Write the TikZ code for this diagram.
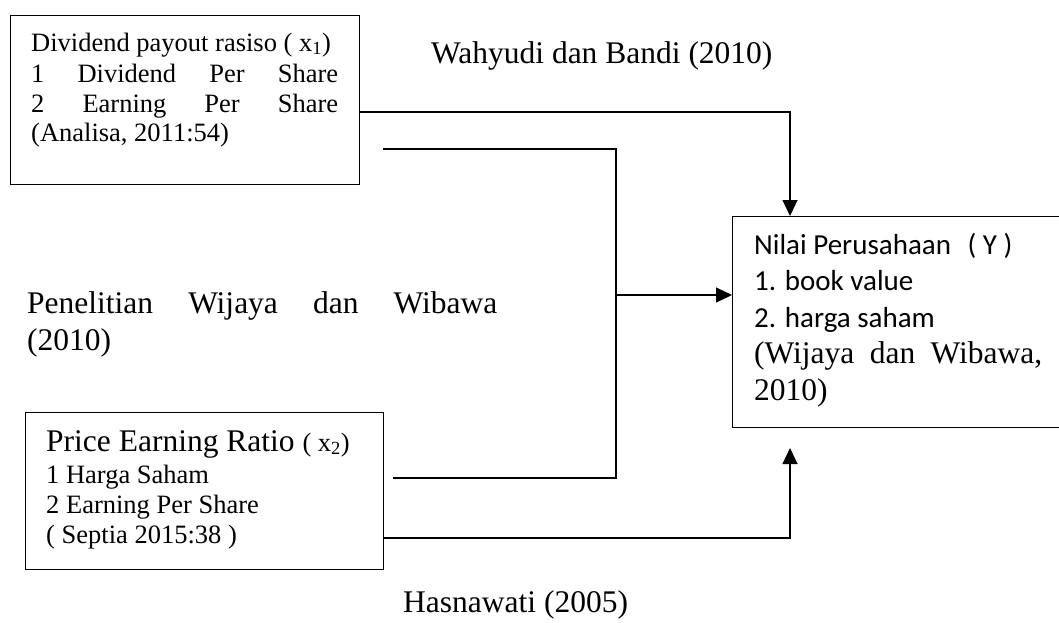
\documentclass[tikz,border=0pt]{standalone}
\usepackage{fontspec}
\setmainfont{Liberation Serif}
\newfontfamily\calib{Carlito}
\usetikzlibrary{arrows.meta}
\tikzset{
  box/.style={draw=black, line width=1.1pt, inner sep=0pt, anchor=north west},
  conn/.style={draw=black, line width=1.1pt},
  arr/.style={conn, -{Triangle[length=16pt,width=15pt]}},
  txt/.style={inner sep=0pt, anchor=base west},
}
\newcommand{\fsA}{\fontsize{26.5pt}{30pt}\selectfont}
\newcommand{\fsB}{\fontsize{31.5pt}{36pt}\selectfont}
\newcommand{\fsC}{\fontsize{29pt}{36pt}\selectfont}
\begin{document}
\begin{tikzpicture}[x=1pt,y=-1pt]
\useasboundingbox (0,0) rectangle (1059,622);
% boxes
\node[box, minimum width=349pt, minimum height=169pt] (x1) at (10,15) {};
\node[box, minimum width=358pt, minimum height=157pt] (x2) at (25,412) {};
\node[box, minimum width=330pt, minimum height=211pt] (y) at (732,216) {};
% box 1 text
\node[txt] (t11) at (31,51) {\fsA Dividend payout rasiso ( x\textsubscript{1})};
\node[txt] (t12) at (31,82) {\fsA\hbox to 307pt{1\hfill Dividend\hfill Per\hfill Share}};
\node[txt] (t13) at (31,112) {\fsA\hbox to 307pt{2\hfill Earning\hfill Per\hfill Share}};
\node[txt] (t14) at (31,141) {\fsA (Analisa, 2011:54)};
% box 2 text
\node[txt] (t21) at (46,451) {\fontsize{31.5pt}{36pt}\selectfont Price Earning Ratio {\fsA( x\textsubscript{2})}};
\node[txt] (t22) at (46,483) {\fsA 1 Harga Saham};
\node[txt] (t23) at (46,513) {\fsA 2 Earning Per Share};
\node[txt] (t24) at (46,543) {\fsA ( Septia 2015:38 )};
% Y box text
\node[txt] (t31) at (754,254) {\calib\fsC Nilai Perusahaan\hspace{10pt} ( Y )};
\node[txt] (t32) at (754,290) {\calib\fsC 1. book value};
\node[txt] (t33) at (754,327) {\calib\fsC 2. harga saham};
\node[txt] (t34) at (754,363) {\fsB\hbox to 288pt{(Wijaya\hfill dan\hfill Wibawa,}};
\node[txt] (t35) at (754,400) {\fsB 2010)};
% free labels
\node[txt] (l1) at (431,63) {\fsB Wahyudi dan Bandi (2010)};
\node[txt] (l2) at (27,313) {\fsB\hbox to 470pt{Penelitian\hfill Wijaya\hfill dan\hfill Wibawa}};
\node[txt] (l3) at (27,350) {\fsB (2010)};
\node[txt] (l4) at (403,612) {\fsB Hasnawati (2005)};
% connectors
\coordinate (a1) at (x1.east |- 0,112);
\coordinate (yt) at (790,216);
\draw[arr] (a1) -| (yt);
\coordinate (b1) at (383,149);
\coordinate (b2) at (616,149);
\coordinate (b3) at (616,478);
\coordinate (b4) at (393,478);
\draw[conn] (b1) -- (b2) -- (b3) -- (b4);
\coordinate (j) at (616,295);
\draw[arr] (j) -- (y.west |- j);
\coordinate (c1) at (x2.east |- 0,538);
\coordinate (c2) at (790,448);
\draw[arr] (c1) -| (c2);
\end{tikzpicture}
\end{document}
